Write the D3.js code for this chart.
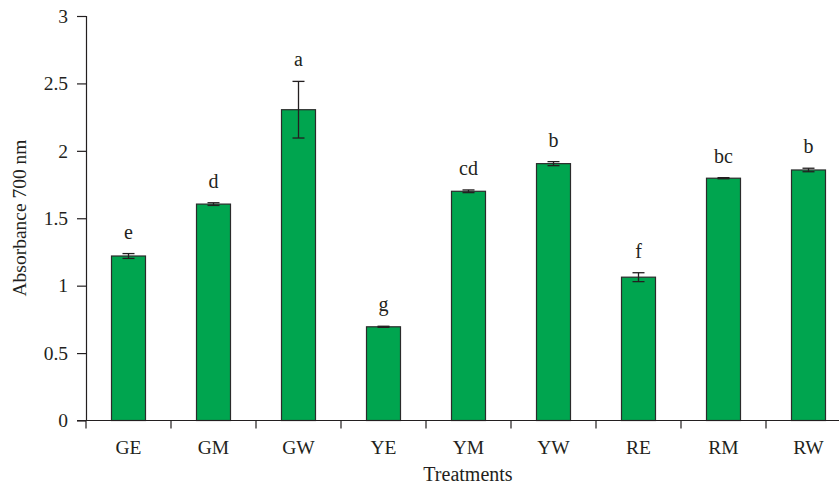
<!DOCTYPE html>
<html>
<head>
<meta charset="utf-8">
<script src="https://cdn.jsdelivr.net/npm/d3@7"></script>
<style>
  body { margin: 0; background: #fff; }
  svg text { font-family: "Liberation Serif", "DejaVu Serif", serif; fill: #231f20; }
</style>
</head>
<body>
<div id="chart"></div>
<script>
// data
var treatments = ["GE", "GM", "GW", "YE", "YM", "YW", "RE", "RM", "RW"];
var absorbance = [1.22, 1.605, 2.305, 0.695, 1.70, 1.905, 1.063, 1.797, 1.858];
var errors     = [0.018, 0.01, 0.21, 0.004, 0.01, 0.015, 0.033, 0.004, 0.013];
var letters    = ["e", "d", "a", "g", "cd", "b", "f", "bc", "b"];
var yTicks     = [0, 0.5, 1, 1.5, 2, 2.5, 3];

(function() {
    var W = 839, H = 487;
    var margin = {top: 16, left: 86};
    var height = 420.5 - margin.top;
    var bandW = 85, barW = 34;

    var svg = d3.select("#chart").append("svg")
        .attr("width", W)
        .attr("height", H);

    var g = svg.append("g")
        .attr("transform", "translate(" + margin.left + "," + margin.top + ")");

    //band scale, one band per treatment, bar centred in it
    var x = d3.scaleBand()
        .domain(treatments)
        .range([0, bandW * treatments.length]);
    function cx(d) { return x(d) + x.bandwidth() / 2; }

    var y = d3.scaleLinear().domain([0, 3]).range([height, 0]);

    //bars
    g.selectAll(".bar")
        .data(treatments)
      .enter().append("rect")
        .attr("class", "bar")
        .attr("x", function(d) { return cx(d) - barW / 2; })
        .attr("width", barW)
        .attr("y", function(d, i) { return y(absorbance[i]); })
        .attr("height", function(d, i) { return height - y(absorbance[i]); })
        .attr("fill", "#00a54f")
        .attr("stroke", "#2b2b2b")
        .attr("stroke-width", 1.2);

    //error bars
    var eb = g.selectAll(".err")
        .data(treatments)
      .enter().append("g")
        .attr("class", "err")
        .attr("stroke", "#231f20")
        .attr("stroke-width", 1.3);

    eb.append("line")
        .attr("x1", cx).attr("x2", cx)
        .attr("y1", function(d, i) { return y(absorbance[i] + errors[i]); })
        .attr("y2", function(d, i) { return y(absorbance[i] - errors[i]); });
    eb.append("line")
        .attr("x1", function(d) { return cx(d) - 6; })
        .attr("x2", function(d) { return cx(d) + 6; })
        .attr("y1", function(d, i) { return y(absorbance[i] + errors[i]); })
        .attr("y2", function(d, i) { return y(absorbance[i] + errors[i]); });
    eb.append("line")
        .attr("x1", function(d) { return cx(d) - 6; })
        .attr("x2", function(d) { return cx(d) + 6; })
        .attr("y1", function(d, i) { return y(absorbance[i] - errors[i]); })
        .attr("y2", function(d, i) { return y(absorbance[i] - errors[i]); });

    //significance letters
    g.selectAll(".letter")
        .data(letters)
      .enter().append("text")
        .attr("class", "letter")
        .attr("text-anchor", "middle")
        .attr("x", function(d, i) { return cx(treatments[i]); })
        .attr("y", function(d, i) { return y(absorbance[i] + errors[i]) - 15; })
        .style("font-size", "20px")
        .text(function(d) { return d; });

    //y-axis
    var yAxis = g.append("g")
        .call(d3.axisLeft(y).tickValues(yTicks).tickSize(9).tickPadding(9)
            .tickFormat(function(d) { return String(d); }));
    yAxis.select(".domain").attr("d", "M-9," + height + "H0.5V0.5H-9");

    //x-axis (ticks at band boundaries)
    var xAxis = g.append("g").attr("transform", "translate(0," + height + ")");
    xAxis.append("line")
        .attr("x1", 0).attr("x2", x.range()[1])
        .attr("stroke", "#231f20").attr("stroke-width", 1.2);
    xAxis.selectAll(".xt")
        .data(treatments.concat([null]))
      .enter().append("line")
        .attr("x1", function(d) { return d ? x(d) : x.range()[1]; })
        .attr("x2", function(d) { return d ? x(d) : x.range()[1]; })
        .attr("y1", 0).attr("y2", 8)
        .attr("stroke", "#231f20").attr("stroke-width", 1.2);
    xAxis.selectAll(".xl")
        .data(treatments)
      .enter().append("text")
        .attr("text-anchor", "middle")
        .attr("x", cx)
        .attr("y", 33)
        .style("font-size", "19.5px")
        .text(function(d) { return d; });

    g.selectAll(".tick text").style("font-size", "19.5px").attr("fill", "#231f20");
    g.selectAll(".tick line, .domain").attr("stroke", "#231f20").attr("stroke-width", 1.2);

    //axis titles
    svg.append("text")
        .attr("text-anchor", "middle")
        .attr("x", 468)
        .attr("y", 481)
        .style("font-size", "20px")
        .text("Treatments");

    svg.append("text")
        .attr("text-anchor", "middle")
        .attr("transform", "rotate(-90)")
        .attr("x", -218)
        .attr("y", 26)
        .style("font-size", "19.5px")
        .text("Absorbance 700 nm");
})();
</script>
</body>
</html>
